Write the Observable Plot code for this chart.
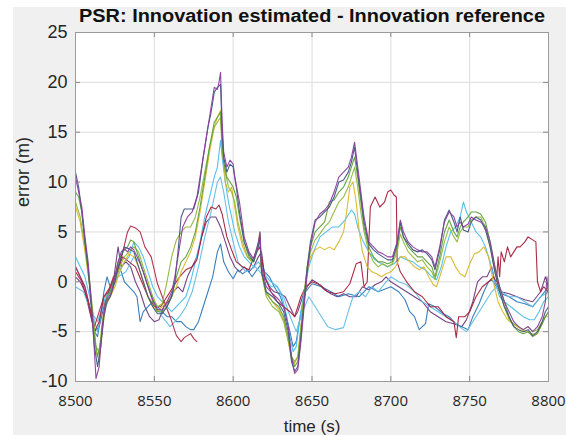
<!DOCTYPE html>
<html>
<head>
<meta charset="utf-8">
<script src="https://cdn.jsdelivr.net/npm/d3@7"></script>
<script src="https://cdn.jsdelivr.net/npm/@observablehq/plot@0.6"></script>
<style>
  html, body { margin: 0; padding: 0; background: #ffffff; }
  #wrap { position: relative; width: 566px; height: 435px; overflow: hidden; }
  #fig { position: absolute; left: 13px; top: 7px; right: 0; bottom: 0; background: #f0f0f0; }
  #chart { position: absolute; left: 0; top: 0; }
</style>
</head>
<body>
<div id="wrap"><div id="fig"></div><div id="chart"></div></div>
<script>
const titleText = "PSR: Innovation estimated - Innovation reference";
const xLabel = "time (s)";
const yLabel = "error (m)";
const xTicks = [8500, 8550, 8600, 8650, 8700, 8750, 8800];
const yTicks = [-10, -5, 0, 5, 10, 15, 20, 25];

// series: [time (s), error (m)]
const purpleMain = [[8500,10.5],[8502,9],[8504,7.5],[8506,4.5],[8508,2],[8510,-2],[8512,-7],[8513,-9.7],[8515,-8.5],[8517,-4.5],[8519,-2],[8521,-1.5],[8523,-1],[8525,0.5],[8527,2],[8529,3],[8531,3.3],[8533,3],[8535,3.5],[8537,3.2],[8540,2.2],[8543,1],[8546,-0.5],[8549,-1.8],[8552,-2.8],[8555,-2.8],[8558,-2],[8561,-1],[8563,0.5],[8565,2.5],[8568,5.5],[8571,6.5],[8574,7],[8577,8.5],[8580,11.5],[8583,14.5],[8586,17.5],[8588,19.5],[8590,19.3],[8591,20],[8592,21],[8593,16],[8594,13],[8596,11.5],[8598,12.2],[8600,11.8],[8601,10.5],[8604,8],[8607,4.5],[8610,3],[8613,2.3],[8616,4],[8617,5],[8618,1.5],[8621,-0.5],[8625,-1.2],[8629,-1.8],[8632,-2.5],[8635,-4.5],[8637,-7.5],[8639,-9.2],[8641,-8.8],[8643,-6],[8645,-2.5],[8647,1],[8649,3.5],[8652,6],[8655,6.8],[8658,7.2],[8661,7.8],[8664,9],[8667,10.5],[8670,11],[8673,11.5],[8675,12.5],[8677,14],[8679,11.5],[8681,9],[8683,6.5],[8686,4],[8689,3.5],[8692,3],[8695,2.8],[8698,2.5],[8701,2.5],[8704,4],[8706,6.2],[8708,5],[8711,4],[8714,3.5],[8717,3.2],[8720,3],[8723,3],[8726,2.5],[8728,1.5],[8731,3.5],[8734,6],[8737,7],[8740,6.5],[8742,5.5],[8744,6],[8746,5.5],[8749,5.8],[8751,6.5],[8754,6.2],[8757,6],[8760,5.5],[8763,4],[8766,1.5],[8769,-0.5],[8772,-2],[8775,-3],[8778,-4],[8781,-4.5],[8784,-4.8],[8787,-4.5],[8790,-5],[8793,-4.5],[8796,-3.5],[8798,-2],[8799,0.5],[8800,-1.5]];
const darkBlueMain = [[8500,11],[8502,9.5],[8504,7],[8506,4],[8508,1.5],[8510,-2.5],[8512,-6.5],[8514,-8.5],[8516,-6.5],[8518,-3.5],[8520,-2],[8522,-1.5],[8525,0],[8527,1.5],[8529,2.5],[8531,3.5],[8534,3.3],[8537,3],[8540,1.5],[8543,0],[8546,-1.5],[8549,-2.5],[8552,-3.2],[8555,-3.2],[8558,-2.5],[8561,-1.5],[8563,0],[8565,3],[8567,6.5],[8569,7.3],[8572,7.3],[8575,7.3],[8578,9],[8581,12.5],[8584,15.5],[8586,17],[8588,19],[8590,19.5],[8592,19.8],[8593,15],[8594,12.5],[8596,11],[8598,11.8],[8600,11.5],[8602,9.5],[8604,7],[8607,4],[8610,2.8],[8613,2],[8616,3.5],[8617,4.5],[8618,1],[8621,-1],[8625,-1.5],[8629,-2.2],[8632,-3],[8635,-5],[8637,-8],[8639,-9],[8641,-8.5],[8643,-5.5],[8645,-2],[8647,1.5],[8649,4],[8652,6.2],[8655,6.5],[8658,7],[8661,7.5],[8664,8.5],[8667,10],[8670,10.2],[8673,11],[8675,12],[8677,13.5],[8679,11],[8681,8.5],[8683,6],[8686,3.8],[8689,3.2],[8692,2.8],[8695,2.5],[8698,2.2],[8701,2.2],[8704,3.8],[8706,6],[8708,4.5],[8711,3.8],[8714,3.2],[8717,3],[8720,3.2],[8723,2.8],[8726,2.2],[8728,1.2],[8731,3.2],[8734,6.2],[8737,7.2],[8740,6],[8742,5],[8744,6.5],[8746,5.2],[8749,5],[8751,6],[8754,6.5],[8757,6.2],[8760,5.2],[8763,3.5],[8766,1],[8769,-1],[8772,-2.5],[8775,-3.5],[8778,-4.5],[8781,-4.8],[8784,-5],[8787,-4.8],[8790,-5.4],[8793,-5],[8796,-4],[8798,-3],[8800,-2.5]];
const greenMain = [[8500,9],[8502,8.5],[8504,7],[8506,4],[8508,1],[8510,-2],[8512,-5.5],[8514,-7.5],[8516,-6],[8518,-3],[8520,-1.5],[8522,-1],[8525,0.5],[8527,2],[8530,3],[8533,3.5],[8535,4.2],[8537,4],[8540,2.5],[8543,1],[8546,-0.5],[8549,-2],[8552,-3],[8555,-3],[8558,-2.5],[8561,-1.5],[8564,0.5],[8567,2],[8570,2.5],[8573,3.5],[8576,5],[8579,7.5],[8582,10.5],[8585,13.5],[8588,16],[8590,16.5],[8592,17],[8593,14],[8594,12],[8596,10.5],[8598,10],[8600,9.5],[8602,8.5],[8604,6.5],[8607,4],[8610,2.5],[8613,2],[8616,3.8],[8617,4.8],[8618,1],[8621,-1.2],[8625,-2],[8629,-2.5],[8632,-3.5],[8635,-5.5],[8637,-7.5],[8639,-8.5],[8641,-8],[8643,-5],[8645,-1.5],[8647,1.5],[8649,3.5],[8652,5],[8655,5.5],[8658,6],[8661,8],[8664,8.2],[8667,9],[8670,9.5],[8673,10.5],[8675,11.5],[8677,12.5],[8679,10.5],[8681,8],[8683,5.5],[8686,3.5],[8689,2.5],[8692,2],[8695,2],[8698,1.8],[8701,2],[8704,3.5],[8706,5.5],[8708,4.5],[8711,3.5],[8714,3],[8717,2.5],[8720,2.5],[8723,2],[8726,1.5],[8728,0.5],[8731,2.5],[8734,5],[8737,6.2],[8740,5],[8742,4.5],[8744,5.5],[8746,6],[8749,6.5],[8751,7],[8754,7],[8757,6.8],[8760,6],[8763,4],[8766,1.5],[8769,-0.5],[8772,-2],[8775,-3.5],[8778,-4.5],[8781,-5],[8784,-5.2],[8787,-5],[8790,-5.5],[8793,-5.2],[8796,-4.2],[8798,-3.5],[8800,-3]];
const greenLow = [[8500,8],[8503,6.5],[8506,3.5],[8509,0],[8511,-3],[8513,-6.5],[8515,-7],[8517,-4],[8519,-2],[8522,-1.5],[8525,0],[8528,1.5],[8531,2.5],[8534,3],[8537,3.5],[8540,3],[8543,1.5],[8546,0],[8549,-1.5],[8552,-2.5],[8555,-2.2],[8558,0],[8561,2.5],[8564,4.2],[8567,5],[8570,5.5],[8573,5.5],[8576,6.5],[8579,8.5],[8582,11],[8585,13.5],[8588,15.5],[8590,16],[8592,16.5],[8593,13],[8595,11],[8597,9.5],[8599,9],[8601,8],[8603,6],[8606,4],[8609,2.5],[8612,2],[8615,3],[8617,4.5],[8618,0.8],[8621,-1.5],[8625,-2.5],[8629,-3],[8632,-4],[8635,-6],[8637,-7.5],[8639,-8],[8641,-7.5],[8643,-4.5],[8645,-1],[8647,1.5],[8649,3],[8652,4.2],[8655,4.8],[8658,5.5],[8661,6],[8664,7],[8667,8],[8670,8.5],[8673,9.5],[8675,10.5],[8677,11.5],[8679,9.5],[8681,7],[8683,5],[8686,3],[8689,2],[8692,1.5],[8695,1.8],[8698,1.5],[8701,1.8],[8704,3],[8706,4.8],[8708,4],[8711,3],[8714,2.5],[8717,2],[8720,2.2],[8723,1.5],[8726,1],[8728,0.2],[8731,2],[8734,4],[8737,5.5],[8740,4.5],[8742,4],[8744,5],[8746,5.5],[8749,5.5],[8751,6.2],[8754,6.5],[8757,6.5],[8760,5.5],[8763,3.5],[8766,1],[8769,-1],[8772,-2.5],[8775,-3.8],[8778,-4.2],[8781,-4.5],[8784,-4.8],[8787,-4.5],[8790,-5],[8793,-4.8],[8796,-4],[8798,-3.5],[8800,-3]];
const yellow = [[8500,7.5],[8503,6],[8506,3],[8509,-0.5],[8511,-3.5],[8513,-7],[8515,-8],[8517,-5],[8519,-2.5],[8522,-1.5],[8525,-0.5],[8528,1],[8531,2],[8534,2.8],[8537,2.5],[8540,1.5],[8543,0],[8546,-1.5],[8549,-2.5],[8552,-3],[8555,-2.5],[8558,-2],[8561,-1.5],[8564,-0.5],[8567,1],[8570,2],[8573,3],[8576,4.5],[8579,7],[8582,10],[8585,13],[8588,15.5],[8590,16.5],[8592,17.2],[8593,14],[8595,10],[8597,9],[8599,9.5],[8601,7.5],[8603,5.5],[8606,3.5],[8609,2.5],[8612,2],[8615,3],[8617,5],[8618,1],[8621,-1],[8625,-2],[8629,-2.8],[8632,-3.8],[8635,-6],[8637,-7.8],[8639,-8.2],[8641,-7.5],[8643,-4.5],[8645,-1.5],[8647,1],[8649,2.5],[8652,3.2],[8655,3.5],[8658,3.2],[8661,3.5],[8664,3.2],[8667,4],[8670,5],[8672,7],[8674,9.5],[8676,10],[8678,8],[8680,5],[8682,3],[8685,1.5],[8688,1],[8691,0.8],[8694,0.5],[8697,0.8],[8700,1],[8703,1.5],[8706,2.5],[8709,2.5],[8712,2],[8715,1.5],[8718,1.2],[8721,1.5],[8724,0.5],[8727,-0.3],[8729,-0.5],[8732,1],[8735,2.5],[8738,2.5],[8741,1.5],[8744,0.8],[8747,0.5],[8750,1.8],[8753,2.8],[8756,3],[8759,3.5],[8762,2.5],[8765,0],[8768,-2],[8771,-3],[8774,-3.8],[8777,-4.2],[8780,-4.5],[8783,-4.8],[8786,-5],[8789,-5.2],[8792,-5.3],[8795,-4.5],[8798,-3.5],[8800,-3.5]];
const lightBlue = [[8500,2.5],[8503,1.5],[8506,0.5],[8509,-1.5],[8512,-4],[8514,-5],[8516,-3.5],[8519,-1.5],[8522,-1],[8525,0],[8528,1],[8531,2],[8534,2.5],[8537,4],[8540,3.5],[8543,2.5],[8546,1],[8549,-0.5],[8552,-1.5],[8555,-2],[8558,-2.5],[8561,-3],[8564,-2.5],[8567,-2],[8570,-1.5],[8573,0],[8576,2],[8579,4],[8582,6.5],[8585,8.5],[8588,10.5],[8590,11.5],[8592,14.2],[8593,12.5],[8595,10],[8597,8],[8599,6.5],[8601,5],[8604,3.5],[8607,2.5],[8610,2],[8613,1.5],[8616,2],[8618,1.5],[8621,0.5],[8624,0],[8628,-0.5],[8631,-1.5],[8634,-3.5],[8636,-5.5],[8638,-7],[8640,-6.5],[8642,-4],[8645,-1],[8648,1.5],[8651,3],[8655,4.5],[8659,5],[8663,5.5],[8667,5.5],[8671,6.2],[8675,7.2],[8677,6.8],[8679,5.5],[8682,4.2],[8686,3],[8690,2.2],[8694,1.8],[8698,1.5],[8702,1.8],[8706,2.5],[8710,2.2],[8714,2],[8718,1.5],[8722,1.2],[8726,0.5],[8729,0.2],[8732,1.5],[8735,3.5],[8738,5],[8741,5.5],[8744,6.5],[8746,8],[8748,7],[8751,6],[8754,5],[8757,4.5],[8760,3.5],[8763,2],[8766,0],[8769,-1.5],[8772,-2],[8776,-2.5],[8780,-3],[8784,-3.5],[8788,-3.8],[8791,-3.8],[8794,-3],[8797,-2],[8800,-1.5]];
const cyanLow = [[8500,-0.5],[8505,-1],[8510,-3],[8514,-4],[8518,-2],[8522,-1],[8527,0.5],[8532,1],[8537,2.5],[8541,2],[8545,0],[8550,-2],[8555,-3.5],[8560,-4.5],[8563,-4],[8566,-3.5],[8570,-2.5],[8574,-1],[8578,1.5],[8582,4.5],[8586,7],[8590,10],[8592,10.5],[8594,9],[8597,6],[8600,4],[8603,2],[8608,1],[8614,1.5],[8620,0.5],[8624,-0.5],[8628,-0.5],[8632,-1.5],[8635,-3],[8640,-5],[8644,-3],[8648,-1.5],[8652,-2.5],[8656,-3.5],[8660,-4.5],[8665,-4.8],[8670,-4.6],[8673,-3],[8676,-1.5],[8680,-1],[8684,-1.5],[8688,-0.5],[8692,-1],[8697,0],[8700,0.5],[8705,0],[8710,-0.3],[8715,-1],[8720,-2],[8725,-2.5],[8730,-3],[8735,-3.5],[8740,-4],[8745,-4.7],[8748,-5],[8752,-4],[8756,-3],[8760,-2],[8764,-1],[8767,-0.5],[8770,-1],[8775,-1.5],[8780,-1.5],[8785,-2],[8790,-2.5],[8795,-1.5],[8800,-1]];
const crimsonEarly = [[8500,1.5],[8503,0.5],[8506,-0.5],[8509,-2.5],[8512,-4.5],[8515,-3],[8518,-1.5],[8521,-1],[8524,0.5],[8527,1],[8530,3],[8533,5],[8535,5.6],[8538,5.4],[8541,5],[8544,3.5],[8548,2.5],[8552,-0.2],[8556,-1.9],[8560,-3.5],[8564,-5.4],[8567,-6],[8569,-5.6],[8573,-5.2],[8575,-5.7],[8577,-6]];
const crimson = [[8500,1],[8504,0],[8508,-2],[8512,-5],[8515,-4],[8518,-1.5],[8522,-0.5],[8526,1],[8530,2.5],[8534,2],[8538,1.5],[8542,0],[8546,-1.5],[8550,-2.5],[8554,-2.5],[8558,-1.5],[8562,-0.5],[8566,0.5],[8570,1.2],[8574,1.5],[8577,2.2],[8580,4.5],[8583,6.5],[8586,7.5],[8589,7.3],[8591,7.7],[8593,6.8],[8596,4.5],[8599,3.2],[8602,2],[8606,1.5],[8610,1.2],[8614,2.8],[8617,3.5],[8620,0.5],[8624,-1],[8628,-2],[8632,-2.5],[8636,-3],[8639,-3.5],[8643,-1.5],[8646,-0.5],[8650,0],[8655,-0.3],[8660,-1],[8665,-1.2],[8670,-1],[8674,-0.2],[8678,1.8],[8681,2],[8683,-0.5],[8685,0],[8687,7.5],[8690,8.5],[8693,7.5],[8696,8],[8698,9],[8700,9.2],[8702,8.7],[8703.5,8.5],[8704,2],[8706,1],[8710,0],[8715,-1],[8720,-1.5],[8725,-2.5],[8730,-2.5],[8735,-3.5],[8740,-4],[8741.5,-5.6],[8743,-3.5],[8747,-3.5],[8750,-3],[8754,-1.5],[8758,-0.5],[8762,0],[8765,0.5],[8767,0],[8768,2.5],[8769,0.5],[8770,3],[8772,2],[8774,3.5],[8776,2.5],[8778,3],[8780,3.5],[8782,3.5],[8785,4],[8787,4.5],[8790,4.2],[8792,4],[8793,0],[8795,-1],[8797,-0.5],[8800,-1]];
const blueLow = [[8500,1.5],[8503,0.5],[8506,-0.5],[8509,-2.5],[8512,-5],[8514,-5.5],[8516,-3.5],[8518,-1],[8520,0.5],[8522,-0.5],[8525,0.5],[8528,1.5],[8531,0],[8534,-0.5],[8537,-1],[8539,-1.5],[8541,-4],[8543,-3],[8546,-2.5],[8549,-2],[8552,-2.5],[8555,-3],[8558,-3.5],[8561,-3.5],[8564,-4],[8567,-4],[8570,-4.5],[8573,-4.8],[8575,-4.8],[8578,-4],[8581,-2.5],[8584,-1],[8587,0.5],[8590,3],[8592,3.8],[8594,2],[8597,1],[8600,0.3],[8603,1.2],[8606,0.8],[8609,1.2],[8612,0.5],[8615,1.2],[8618,1.8],[8620,1],[8623,0.5],[8626,-0.5],[8630,-1.5],[8633,-3],[8636,-5],[8638,-6.5],[8640,-6],[8643,-3],[8646,-1],[8650,-0.2],[8656,-0.5],[8662,-1],[8667,-1.5],[8673,-1.2],[8680,-1.5],[8686,-0.5],[8692,-1],[8700,-0.5],[8705,-1],[8709,-1.8],[8712,-3],[8715,-3.5],[8718,-4.8],[8720,-4.5],[8722,-4.2],[8724,-2.2],[8728,-2.5],[8733,-3.2],[8737,-3.5],[8741,-4.2],[8745,-4.5],[8749,-4.8],[8752,-3.5],[8756,-2.2],[8759,-1],[8762,0],[8764,0.2],[8767,-0.5],[8770,-1.2],[8775,-1.5],[8780,-2],[8785,-2.2],[8790,-2.5],[8795,-1.5],[8800,-0.5]];
const purpleLow = [[8500,0.5],[8503,0],[8506,-1],[8509,-3],[8512,-5],[8515,-4.5],[8518,-2.5],[8521,-1],[8524,0],[8527,3.5],[8529,1.5],[8532,2],[8535,1.5],[8538,0],[8541,-1],[8544,-2.5],[8547,-3.5],[8550,-4],[8553,-3.8],[8556,-2.5],[8559,-2],[8562,-1],[8565,-0.5],[8568,-1],[8571,0.5],[8574,1.5],[8577,2.5],[8580,4.5],[8583,6],[8586,6.5],[8589,6.5],[8592,5.5],[8595,4],[8598,2.5],[8601,1.5],[8604,1],[8607,1.5],[8610,1],[8613,1.5],[8616,2.5],[8618,3],[8620,0.5],[8623,-0.5],[8626,-1],[8630,-1.2],[8633,-1.5],[8636,-2.5],[8639,-3.5],[8641,-3],[8644,-1.5],[8647,-0.5],[8650,0.2],[8654,-0.2],[8658,-0.8],[8662,-1.2],[8666,-1.5],[8670,-1.2],[8674,-1.5],[8678,-1.5],[8682,-0.5],[8686,-0.8],[8690,-0.3],[8694,0],[8697,0.5],[8700,0],[8705,-0.5],[8710,-1],[8715,-1.5],[8720,-2],[8725,-3],[8730,-3.5],[8735,-4],[8740,-4.2],[8745,-4.5],[8748,-3.8],[8752,-2],[8755,0],[8758,0.5],[8761,0.5],[8764,1.5],[8766,0],[8770,-1],[8775,-1.2],[8780,-1.5],[8785,-1.8],[8790,-2],[8795,-1],[8798,0.5],[8800,-0.5]];

const seriesList = [
  {data: purpleLow, color: "#6e3a80"},
  {data: blueLow, color: "#2f78b8"},
  {data: cyanLow, color: "#62bde6"},
  {data: lightBlue, color: "#4dbeee"},
  {data: crimson, color: "#a8203c"},
  {data: crimsonEarly, color: "#b02a48"},
  {data: yellow, color: "#d8b928"},
  {data: greenLow, color: "#8fb83a"},
  {data: greenMain, color: "#5f9e3a"},
  {data: darkBlueMain, color: "#3f5580"},
  {data: purpleMain, color: "#8a3d9c"}
];

const W = 566, H = 435;
const mL = 75, mR = 18, mT = 32, mB = 54;
const innerH = H - mT - mB, innerW = W - mL - mR;
const fmt = d => String(d);

const marks = [
  Plot.frame({fill: "white", stroke: null}),
  Plot.gridX(xTicks, {stroke: "#dcdcdc", strokeOpacity: 1}),
  Plot.gridY(yTicks, {stroke: "#dcdcdc", strokeOpacity: 1}),
  ...seriesList.map(s => Plot.line(s.data, {x: d => d[0], y: d => d[1], stroke: s.color, strokeWidth: 1.1, strokeOpacity: 0.95})),
  Plot.ruleX(xTicks, {stroke: "#8a8a8a", insetTop: innerH - 5}),
  Plot.ruleX(xTicks, {stroke: "#8a8a8a", insetBottom: innerH - 5}),
  Plot.ruleY(yTicks, {stroke: "#8a8a8a", insetRight: innerW - 5}),
  Plot.ruleY(yTicks, {stroke: "#8a8a8a", insetLeft: innerW - 5}),
  Plot.frame({stroke: "#9a9a9a", strokeWidth: 1}),
  Plot.axisX(xTicks, {tickSize: 0, tickPadding: 14, tickFormat: fmt, fontSize: 15, fontFamily: "Open Sans", fill: "#262626", label: null}),
  Plot.axisY(yTicks, {tickSize: 0, tickPadding: 8, tickFormat: fmt, fontSize: 18, fill: "#262626", label: null}),
  Plot.text([titleText], {frameAnchor: "top", dy: -16, lineAnchor: "middle", fontSize: 18, fontWeight: "bold", fill: "#111"}),
  Plot.text([xLabel], {frameAnchor: "bottom", dy: 45, lineAnchor: "middle", fontSize: 17, fill: "#262626"}),
  Plot.text([yLabel], {frameAnchor: "left", dx: -52, rotate: -90, lineAnchor: "middle", fontSize: 18, fill: "#262626"})
];

const plot = Plot.plot({
  width: W, height: H,
  marginLeft: mL, marginRight: mR, marginTop: mT, marginBottom: mB,
  x: {domain: [8500, 8800]},
  y: {domain: [-10, 25]},
  style: {background: "none", fontFamily: "'Liberation Sans', Arial, sans-serif", overflow: "visible"},
  marks
});
document.getElementById("chart").appendChild(plot);

// stretch the title to the reference width
d3.select(plot).selectAll("text").filter(function() { return this.textContent === titleText; })
  .attr("textLength", 466).attr("lengthAdjust", "spacingAndGlyphs");
</script>
</body>
</html>
